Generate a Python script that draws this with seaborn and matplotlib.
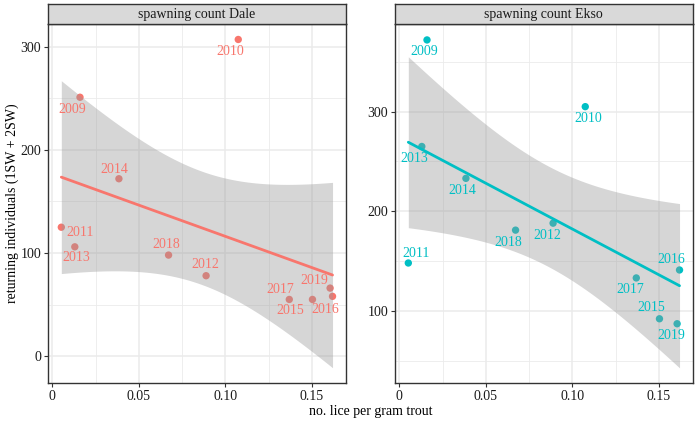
import numpy as np
import pandas as pd
import matplotlib
matplotlib.use("Agg")
import matplotlib.pyplot as plt
import seaborn as sns

# ---------------- data ----------------
years = [2009, 2010, 2011, 2012, 2013, 2014, 2015, 2016, 2017, 2018, 2019]
lice = [0.016, 0.1075, 0.0052, 0.0889, 0.013, 0.0385, 0.1504, 0.162, 0.137, 0.0672, 0.1606]
dale = [251, 307, 125, 78, 106, 172, 55, 58, 55, 98, 66]
ekso = [372, 305, 148, 188, 265, 233, 92, 141, 133, 181, 87]

panels = ["spawning count Dale", "spawning count Ekso"]
x_ticks = [0, 0.05, 0.10, 0.15]
x_ticklabels = ["0", "0.05", "0.10", "0.15"]
y_ticks_dale = [0, 100, 200, 300]
y_ticks_ekso = [100, 200, 300]

# label offsets (pixels; +y = down), style only
off_dale = {2009: (-8, 12), 2010: (-8, 12), 2011: (19, 5), 2012: (-1, -11),
            2013: (1, 11), 2014: (-5, -9), 2015: (-22, 11), 2016: (-7, 13),
            2017: (-9, -10), 2018: (-2, -11), 2019: (-16, -8)}
off_ekso = {2009: (-3, 12), 2010: (3, 12), 2011: (8, -10), 2012: (-6, 12),
            2013: (-8, 12), 2014: (-4, 12), 2015: (-8, -11), 2016: (-8, -10),
            2017: (-6, 12), 2018: (-7, 12), 2019: (-6, 12)}

df = pd.DataFrame({"year": years, "lice": lice, "dale": dale, "ekso": ekso})

sns.set_theme(style="white")
plt.rcParams["font.family"] = ["Liberation Serif", "DejaVu Serif"]

W, H = 695, 424
fig = plt.figure(figsize=(W / 100, H / 100), dpi=100)

T975_DF9 = 2.2621571627


def fit_band(x, y):
    x = np.asarray(x, float)
    y = np.asarray(y, float)
    n = len(x)
    b1, b0 = np.polyfit(x, y, 1)
    resid = y - (b0 + b1 * x)
    s = np.sqrt(np.sum(resid ** 2) / (n - 2))
    xs = np.linspace(x.min(), x.max(), 100)
    yhat = b0 + b1 * xs
    se = s * np.sqrt(1 / n + (xs - x.mean()) ** 2 / np.sum((x - x.mean()) ** 2))
    return xs, yhat, yhat - T975_DF9 * se, yhat + T975_DF9 * se


def panel(left_px, col, color, title, yticks, ylim, offs):
    ax = fig.add_axes([left_px / W, (H - 383) / H, 297.5 / W, 359 / H])
    ax.set_facecolor("white")
    # grid
    for v in [0.025, 0.075, 0.125]:
        ax.axvline(v, color="#EBEBEB", lw=0.6, zorder=0)
    for v in x_ticks:
        ax.axvline(v, color="#EBEBEB", lw=1.1, zorder=0)
    for v in yticks:
        ax.axhline(v, color="#EBEBEB", lw=1.1, zorder=0)
    for i in range(len(yticks) + 1):
        m = yticks[0] - 50 + 100 * i
        ax.axhline(m, color="#EBEBEB", lw=0.6, zorder=0)

    sns.scatterplot(data=df, x="lice", y=col, color=color, s=28, edgecolor="none",
                    ax=ax, zorder=2, legend=False)
    xs, yh, lo, hi = fit_band(df["lice"], df[col])
    ax.fill_between(xs, lo, hi, color="#999999", alpha=0.4, lw=0, zorder=3)
    ax.plot(xs, yh, color=color, lw=2.0, zorder=4)
    for yr, xv, yv in zip(df["year"], df["lice"], df[col]):
        dx, dy = offs[yr]
        ax.annotate(str(yr), (xv, yv), xytext=(dx * 0.72, -dy * 0.72),
                    textcoords="offset points", ha="center", va="center",
                    color=color, fontsize=10, zorder=5)

    ax.set_xlim(-0.0025, 0.1695)
    ax.set_ylim(*ylim)
    ax.set_xticks(x_ticks)
    ax.set_xticklabels(x_ticklabels)
    ax.set_yticks(yticks)
    ax.set_yticklabels([str(v) for v in yticks])
    ax.tick_params(axis="both", which="both", direction="out", length=3, width=0.8,
                   color="#333333", labelsize=10, labelcolor="#1A1A1A", pad=2,
                   bottom=True, left=True)
    ax.set_xlabel("")
    ax.set_ylabel("")
    for sp in ax.spines.values():
        sp.set_color("#333333")
        sp.set_linewidth(1.0)
        sp.set_visible(True)

    sax = fig.add_axes([left_px / W, (H - 24) / H, 297.5 / W, 20 / H])
    sax.set_facecolor("#D9D9D9")
    sax.set_xticks([])
    sax.set_yticks([])
    for sp in sax.spines.values():
        sp.set_color("#333333")
        sp.set_linewidth(1.0)
        sp.set_visible(True)
    sax.text(0.5, 0.48, title, ha="center", va="center", fontsize=10,
             color="#1A1A1A", transform=sax.transAxes)
    return ax


panel(48, "dale", "#F8766D", panels[0], y_ticks_dale, (-26, 322), off_dale)
panel(395, "ekso", "#00BFC4", panels[1], y_ticks_ekso, (27.5, 388), off_ekso)

fig.text(370.5 / W, 1 - 412 / H, "no. lice per gram trout", ha="center", va="center",
         fontsize=10, color="black")
fig.text(12 / W, 1 - 203 / H, "returning individuals (1SW + 2SW)", ha="center",
         va="center", rotation=90, fontsize=10, color="black")

fig.savefig("out.png", dpi=100)
